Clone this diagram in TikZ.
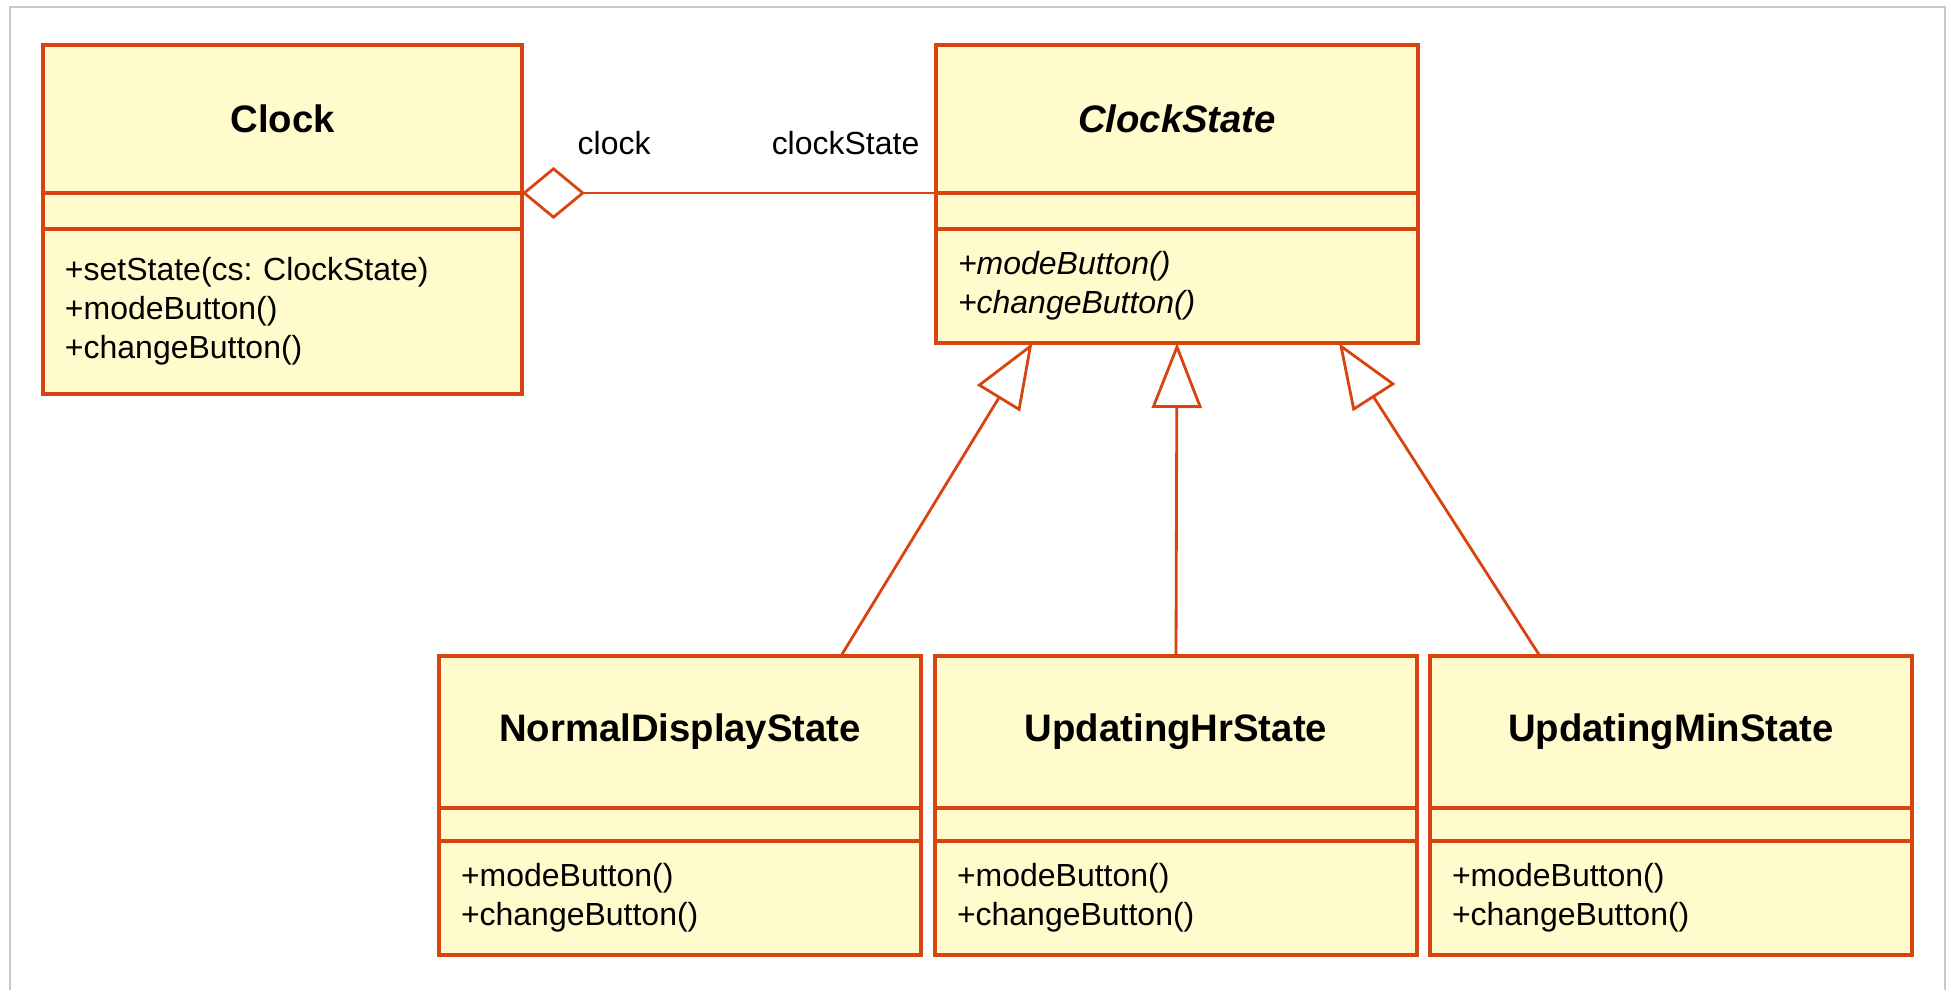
\documentclass[tikz,border=0pt]{standalone}
\usepackage{fontspec}
\setmainfont{Liberation Sans}
\frenchspacing
\usetikzlibrary{arrows.meta,positioning,calc}
\definecolor{umlorange}{RGB}{216,68,16}
\definecolor{umlfill}{RGB}{255,251,204}
\definecolor{framegrey}{RGB}{200,200,200}
\tikzset{
  part/.style={rectangle, draw=umlorange, fill=umlfill, line width=1pt, outer sep=0pt, inner sep=0pt, minimum width=4.82cm},
  namepart/.style={part, minimum height=1.48cm, font=\fontsize{10.9pt}{13pt}\selectfont\bfseries},
  attrpart/.style={part, minimum height=0.36cm},
  opspart/.style={part, minimum height=1.14cm, text width=4.38cm, inner xsep=0.22cm, align=left, font=\fontsize{9.1pt}{11.1pt}\selectfont},
  role/.style={font=\fontsize{9.1pt}{11.1pt}\selectfont, inner sep=0pt},
  aggr/.style={draw=umlorange, line width=0.8pt, {Diamond[open, length=0.63cm, width=0.52cm]}-},
  gen/.style={draw=umlorange, line width=0.8pt, -{Triangle[open, length=0.65cm, width=0.5cm]}},
}
\begin{document}
\begin{tikzpicture}
  \useasboundingbox (0,0) rectangle (19.5,-9.9);
  \draw[framegrey, line width=0.5pt] (0.10,-9.9) |- (19.45,-0.07) -- (19.45,-9.9);

  % context class
  \node[namepart, minimum width=4.79cm, anchor=north west] (clockN) at (0.43,-0.45) {Clock};
  \node[attrpart, minimum width=4.79cm, below=0pt of clockN] (clockA) {};
  \node[opspart, minimum width=4.79cm, text width=4.35cm, minimum height=1.65cm, below=0pt of clockA] (clockO)
    {+setState(cs: ClockState)\\+modeButton()\\+changeButton()};

  % abstract state
  \node[namepart, anchor=north west, font=\fontsize{10.9pt}{13pt}\selectfont\bfseries\itshape] (stateN) at (9.36,-0.45) {ClockState};
  \node[attrpart, below=0pt of stateN] (stateA) {};
  \node[opspart, below=0pt of stateA, font=\fontsize{9.1pt}{11.1pt}\selectfont\itshape] (stateO)
    {+modeButton()\\+changeButton()};

  % concrete states
  \node[namepart, minimum height=1.52cm, anchor=north west] (normalN) at (4.39,-6.56) {NormalDisplayState};
  \node[namepart, minimum height=1.52cm, right=0.14cm of normalN] (hrN) {UpdatingHrState};
  \node[namepart, minimum height=1.52cm, right=0.13cm of hrN] (minN) {UpdatingMinState};
  \foreach \s in {normal,hr,min}{
    \node[attrpart, minimum height=0.33cm, below=0pt of \s N] (\s A) {};
    \node[opspart, below=0pt of \s A] (\s O) {+modeButton()\\+changeButton()};
  }

  % aggregation
  \draw[aggr] (clockA.north east) -- (stateA.north west);
  \node[role, anchor=base west] (roleclock) at ([xshift=0.55cm,yshift=0.38cm]clockA.north east) {clock};
  \node[role, anchor=base east] (rolestate) at ([xshift=-0.16cm,yshift=0.38cm]stateA.north west) {clockState};

  % generalizations
  \draw[gen] ($(normalN.north west)!0.834!(normalN.north east)$) -- ($(stateO.south west)!0.2!(stateO.south east)$);
  \draw[gen] (hrN.north) -- (stateO.south);
  \draw[gen] ($(minN.north west)!0.228!(minN.north east)$) -- ($(stateO.south west)!0.836!(stateO.south east)$);
\end{tikzpicture}
\end{document}
